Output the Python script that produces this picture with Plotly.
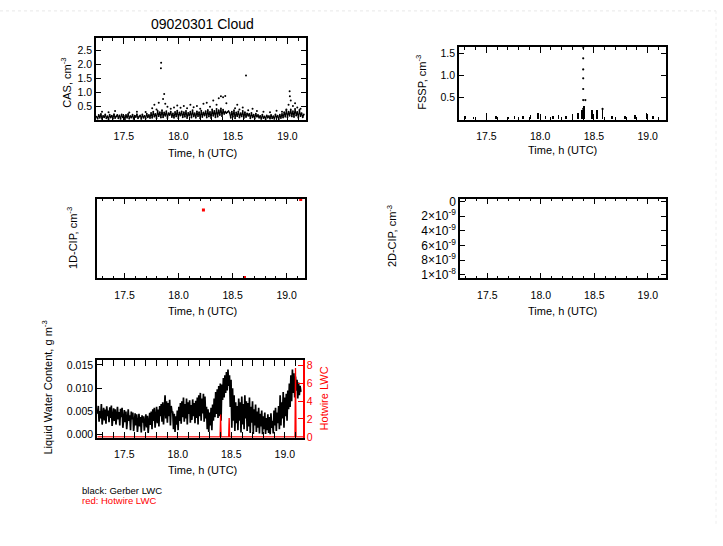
import plotly.graph_objects as go

W, H = 723, 546

# ---------------- data ----------------
t_start, t_end = 17.25, 19.15

# CAS concentration (cm^-3): dense base band, regular sampling
cas_base = [
    0.12,0.05,0.18,0.08,0.22,0.04,0.15,0.10,0.20,0.06,
    0.14,0.03,0.19,0.09,0.16,0.05,0.21,0.07,0.13,0.18,
    0.06,0.17,0.04,0.20,0.10,0.15,0.03,0.18,0.08,0.22,
    0.05,0.14,0.09,0.19,0.04,0.16,0.11,0.21,0.06,0.13,
    0.17,0.04,0.20,0.08,0.15,0.05,0.23,0.10,0.18,0.07,
    0.26,0.08,0.30,0.12,0.22,0.06,0.33,0.14,0.28,0.09,
    0.35,0.10,0.27,0.15,0.32,0.07,0.25,0.18,0.30,0.11,
    0.24,0.08,0.29,0.13,0.34,0.06,0.27,0.16,0.31,0.10,
    0.28,0.12,0.33,0.07,0.26,0.15,0.30,0.09,0.35,0.13,
    0.25,0.08,0.31,0.14,0.28,0.06,0.34,0.11,0.27,0.16,
    0.32,0.09,0.36,0.13,0.29,0.07,0.38,0.15,0.33,0.10,
    0.40,0.12,0.35,0.18,0.42,0.14,0.37,0.22,0.30,0.25,
    0.28,0.32,0.26,0.08,0.30,0.12,0.35,0.06,0.27,0.14,
    0.31,0.09,0.25,0.13,0.33,0.07,0.28,0.11,0.24,0.15,
    0.22,0.06,0.26,0.10,0.19,0.05,0.23,0.12,0.18,0.08,
    0.15,0.04,0.19,0.07,0.13,0.03,0.17,0.09,0.14,0.05,
    0.18,0.06,0.14,0.04,0.20,0.08,0.16,0.03,0.19,0.07,
    0.22,0.09,0.28,0.12,0.35,0.10,0.30,0.15,0.38,0.13,
    0.32,0.11,0.40,0.16,0.29,0.08,0.36,0.14,0.25,0.10,
    0.20,
]
# CAS isolated higher samples
cas_pk_t = [17.30,17.36,17.42,17.55,17.62,17.70,17.76,17.78,17.80,17.82,17.84,17.842,
            17.86,17.87,17.88,17.90,17.93,17.96,17.99,18.02,18.05,18.08,18.11,18.14,
            18.17,18.20,18.23,18.26,18.29,18.32,18.35,18.37,18.39,18.41,18.43,18.44,
            18.52,18.54,18.56,18.59,18.62,18.64,18.68,18.72,18.78,18.84,18.90,18.95,
            18.99,19.01,19.02,19.022,19.03,19.05,19.07,19.09,19.12]
cas_pk_v = [0.30,0.28,0.32,0.27,0.30,0.29,0.42,0.55,0.38,0.62,1.85,2.05,
            0.75,0.93,0.58,0.48,0.40,0.45,0.52,0.44,0.50,0.42,0.55,0.46,
            0.50,0.40,0.58,0.62,0.48,0.70,0.55,0.78,0.85,0.82,0.86,0.60,
            0.42,0.55,0.38,0.45,1.59,0.35,0.40,0.32,0.30,0.28,0.33,0.30,
            0.38,0.55,1.03,0.85,0.70,0.50,0.60,0.45,0.40]

# FSSP concentration (cm^-3)
fssp_t = [17.30,17.38,17.50,17.59,17.70,17.76,17.84,17.91,17.98,18.05,18.12,18.17,
          18.24,18.30,18.35,18.39,18.41,18.48,18.53,18.58,18.67,18.79,18.88,18.99,19.05]
fssp_v = [0.07,0.06,0.14,0.08,0.06,0.07,0.08,0.09,0.14,0.08,0.07,0.10,
          0.08,0.11,0.14,0.20,0.30,0.20,0.22,0.24,0.07,0.08,0.10,0.14,0.08]
fssp_col_t = [18.40,18.40,18.40,18.40,18.40,18.40,18.40,18.42,18.58]
fssp_col_v = [1.62,1.38,1.13,0.93,0.69,0.44,0.24,0.44,0.24]

# 1D-CIP (red samples)
cip1_t = [18.23, 19.13, 18.61]
cip1_v = [0.86, 0.99, 0.01]

# 2D-CIP tick labels
cip2_tickvals = [0, 2e-9, 4e-9, 6e-9, 8e-9, 1e-8]
cip2_ticktext = ["0", "2×10<sup>-9</sup>", "4×10<sup>-9</sup>", "6×10<sup>-9</sup>",
                 "8×10<sup>-9</sup>", "1×10<sup>-8</sup>"]

# Gerber LWC (g m^-3), regular sampling
lwc = [
    0.0045,0.0062,0.0028,0.0051,0.0035,0.0066,0.0022,0.0048,0.0058,0.0031,0.0054,0.0024,0.0061,0.0040,
    0.0052,0.0027,0.0059,0.0036,0.0063,0.0019,0.0047,0.0057,0.0030,0.0055,0.0022,0.0050,0.0060,0.0033,
    0.0049,0.0020,0.0056,0.0038,0.0058,0.0015,0.0044,0.0053,0.0027,0.0050,0.0012,0.0046,0.0055,0.0030,
    0.0042,0.0010,0.0050,0.0033,0.0048,0.0008,0.0039,0.0046,0.0020,0.0044,0.0006,0.0037,0.0045,0.0018,
    0.0038,0.0005,0.0042,0.0026,0.0040,0.0009,0.0035,0.0044,0.0016,0.0041,0.0004,0.0036,0.0047,0.0021,
    0.0050,0.0012,0.0055,0.0030,0.0058,0.0015,0.0049,0.0060,0.0025,0.0054,0.0018,0.0062,0.0040,0.0066,
    0.0028,0.0070,0.0022,0.0064,0.0085,0.0035,0.0072,0.0026,0.0068,0.0040,0.0075,0.0020,0.0062,0.0048,
    0.0050,0.0012,0.0045,0.0006,0.0040,0.0022,0.0052,0.0010,0.0060,0.0030,0.0068,0.0024,0.0072,0.0038,
    0.0080,0.0028,0.0066,0.0035,0.0078,0.0022,0.0070,0.0045,0.0074,0.0026,0.0064,0.0032,0.0076,0.0040,
    0.0068,0.0025,0.0073,0.0036,0.0080,0.0022,0.0085,0.0040,0.0090,0.0030,0.0078,0.0046,0.0088,0.0028,
    0.0082,0.0035,0.0060,0.0012,0.0055,0.0006,0.0048,0.0020,0.0058,0.0010,0.0065,0.0030,0.0078,0.0038,
    0.0092,0.0045,0.0098,0.0036,0.0105,0.0040,0.0110,0.0030,0.0108,0.0075,0.0122,0.0080,0.0128,0.0090,
    0.0135,0.0095,0.0140,0.0105,0.0128,0.0060,0.0118,0.0015,0.0100,0.0030,0.0085,0.0008,0.0070,0.0025,
    0.0062,0.0010,0.0078,0.0030,0.0070,0.0005,0.0082,0.0022,0.0066,0.0012,0.0085,0.0035,0.0072,0.0008,
    0.0068,0.0018,0.0080,0.0004,0.0060,0.0026,0.0072,0.0002,0.0055,0.0020,0.0065,0.0006,0.0050,0.0015,
    0.0058,0.0003,0.0045,0.0018,0.0052,0.0001,0.0040,0.0012,0.0048,0.0002,0.0036,0.0010,0.0044,0.0004,
    0.0038,0.0001,0.0046,0.0015,0.0030,0.0003,0.0052,0.0020,0.0058,0.0008,0.0048,0.0025,0.0062,0.0012,
    0.0085,0.0020,0.0070,0.0035,0.0092,0.0015,0.0080,0.0040,0.0088,0.0030,0.0095,0.0055,0.0110,0.0060,
    0.0128,0.0072,0.0140,0.0090,0.0132,0.0080,0.0125,0.0095,0.0118,0.0078,0.0112,0.0085,0.0105,0.0092,
]
# Hotwire LWC (right axis)
hw_t = [17.25, 18.395, 18.40, 18.405, 18.475, 18.48, 18.485, 19.095, 19.10, 19.105, 19.17]
hw_v = [0, 0, 2.5, 0, 0, 2.1, 0, 0, 7.7, 0, 0]

x_tickvals = [17.5, 18.0, 18.5, 19.0]
x_ticktext = ["17.5", "18.0", "18.5", "19.0"]
x_minor = [17.3, 17.4, 17.6, 17.7, 17.8, 17.9, 18.1, 18.2, 18.3, 18.4,
           18.6, 18.7, 18.8, 18.9, 19.1]

# ---------------- helpers ----------------
def uni(n):
    return [t_start + (t_end - t_start) * i / (n - 1) for i in range(n)]

def dx(a, b):
    return [a / W, b / W]

def dy(top, bottom):
    return [1 - bottom / H, 1 - top / H]

def px(x):
    return x / W

def py(y):
    return 1 - y / H

FONT = "Liberation Sans, Arial, sans-serif"
TICKF = dict(family=FONT, size=10.5, color="black")

def xax(dom, anchor):
    return dict(domain=dom, anchor=anchor, range=[17.245, 19.17],
                tickmode="array", tickvals=x_tickvals, ticktext=x_ticktext,
                ticks="inside", ticklen=6, tickwidth=1.2, tickcolor="black",
                showline=True, linecolor="black", linewidth=1.5, mirror="allticks",
                minor=dict(tickmode="array", tickvals=x_minor, ticks="inside",
                           ticklen=3, tickwidth=1, tickcolor="black"),
                showgrid=False, zeroline=False, tickfont=TICKF,
                ticklabelstandoff=6)

def yax(dom, anchor, rng, tv, tt, mirror="allticks", ticks="inside", tf=TICKF):
    return dict(domain=dom, anchor=anchor, range=rng,
                tickmode="array", tickvals=tv, ticktext=tt,
                ticks=ticks, ticklen=5, tickwidth=1.2, tickcolor="black",
                showline=True, linecolor="black", linewidth=1.5, mirror=mirror,
                showgrid=False, zeroline=False, tickfont=tf)

fig = go.Figure()

# CAS
fig.add_trace(go.Scatter(x=uni(len(cas_base)), y=cas_base, mode="lines+markers",
                         line=dict(color="black", width=1.2),
                         marker=dict(color="black", size=1.8),
                         xaxis="x", yaxis="y", showlegend=False))
fig.add_trace(go.Scatter(x=cas_pk_t, y=cas_pk_v, mode="markers",
                         marker=dict(color="black", size=2),
                         xaxis="x", yaxis="y", showlegend=False))
# FSSP
fig.add_trace(go.Bar(x=fssp_t, y=fssp_v, width=0.006, marker=dict(color="black", line=dict(width=0)),
                     xaxis="x2", yaxis="y2", showlegend=False))
fig.add_trace(go.Scatter(x=fssp_col_t, y=fssp_col_v, mode="markers",
                         marker=dict(color="black", size=2.2),
                         xaxis="x2", yaxis="y2", showlegend=False))
# 1D-CIP
fig.add_trace(go.Scatter(x=cip1_t, y=cip1_v, mode="markers",
                         marker=dict(color="red", size=3, symbol="square"),
                         xaxis="x3", yaxis="y3", showlegend=False))
# 2D-CIP (no samples above zero)
fig.add_trace(go.Scatter(x=[], y=[], mode="markers", xaxis="x4", yaxis="y4", showlegend=False))
# LWC
fig.add_trace(go.Scatter(x=uni(len(lwc)), y=lwc, mode="lines",
                         line=dict(color="black", width=1.7),
                         xaxis="x5", yaxis="y5", showlegend=False))
fig.add_trace(go.Scatter(x=hw_t, y=hw_v, mode="lines",
                         line=dict(color="red", width=1.3),
                         xaxis="x5", yaxis="y6", showlegend=False))

layout = dict(
    width=W, height=H, margin=dict(l=0, r=0, t=0, b=0),
    paper_bgcolor="white", plot_bgcolor="white", showlegend=False,
    font=dict(family=FONT, size=11, color="black"), bargap=0,
    xaxis=xax(dx(96, 306), "y"),
    yaxis=yax(dy(35, 118), "x", [0, 2.92], [0.5, 1.0, 1.5, 2.0, 2.5],
              ["0.5", "1.0", "1.5", "2.0", "2.5"]),
    xaxis2=xax(dx(459, 666), "y2"),
    yaxis2=yax(dy(44, 118), "x2", [-0.01, 1.63], [0.5, 1.0, 1.5], ["0.5", "1.0", "1.5"]),
    xaxis3=xax(dx(97, 305), "y3"),
    yaxis3=yax(dy(198, 279), "x3", [0, 1], [], [], mirror=True, ticks=""),
    xaxis4=xax(dx(460, 666), "y4"),
    yaxis4=yax(dy(198, 279), "x4", [1.05e-8, -0.04e-8], cip2_tickvals, cip2_ticktext,
               tf=dict(family=FONT, size=12, color="black")),
    xaxis5=xax(dx(97, 303), "y5"),
    yaxis5=yax(dy(362, 441), "x5", [-0.00063, 0.01606], [0, 0.005, 0.010, 0.015],
               ["0.000", "0.005", "0.010", "0.015"], mirror=False),
)
layout["yaxis6"] = dict(overlaying="y5", anchor="x5", side="right", range=[-0.1, 8.6],
                        tickmode="array", tickvals=[0, 2, 4, 6, 8], ticktext=["0", "2", "4", "6", "8"],
                        ticks="inside", ticklen=5, tickwidth=1.2, tickcolor="red",
                        showline=True, linecolor="red", linewidth=1.5,
                        showgrid=False, zeroline=False,
                        tickfont=dict(family=FONT, size=10.5, color="red"))
fig.update_layout(**layout)

ann = []
def text(x, y, s, size=11, color="black", angle=0, xanchor="center"):
    ann.append(dict(x=px(x), y=py(y), xref="paper", yref="paper", text=s, showarrow=False,
                    textangle=angle, xanchor=xanchor, yanchor="middle",
                    font=dict(family=FONT, size=size, color=color)))

text(202, 20, "09020301 Cloud", size=14)
XT = "Time, h (UTC)"
text(202, 151, XT)
text(562, 148, XT)
text(202, 312, XT)
text(562, 312, XT)
text(202, 474, XT)
text(66, 80, "CAS, cm<sup>-3</sup>", angle=-90)
text(421, 80, "FSSP, cm<sup>-3</sup>", angle=-90)
text(72, 238, "1D-CIP, cm<sup>-3</sup>", angle=-90)
text(392, 236, "2D-CIP, cm<sup>-3</sup>", angle=-90)
text(47, 390, "Liquid Water Content, g m<sup>-3</sup>", angle=-90)
text(324, 401, "Hotwire LWC", color="red", angle=-90)
text(80, 495, "black: Gerber LWC", size=9.5, xanchor="left")
text(80, 505, "red: Hotwire LWC", size=9.5, color="red", xanchor="left")
fig.update_layout(annotations=ann)

fig.add_shape(type="line", xref="paper", yref="paper", x0=0, x1=px(716), y0=py(7), y1=py(7),
              line=dict(color="#e8e8e8", width=1, dash="dot"))
fig.add_shape(type="line", xref="paper", yref="paper", x0=px(716), x1=px(716), y0=py(7), y1=py(530),
              line=dict(color="#eeeeee", width=1, dash="dot"))

fig.write_html("out.html")
